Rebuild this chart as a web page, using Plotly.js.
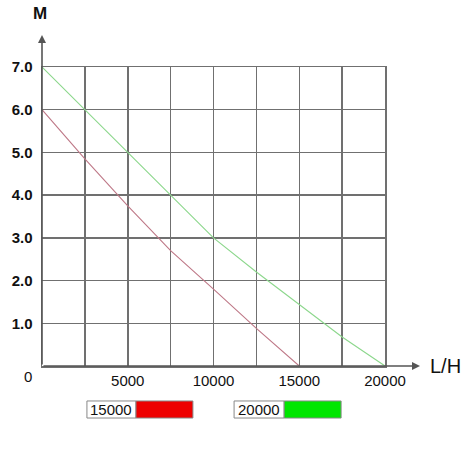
<!DOCTYPE html>
<html>
<head>
<meta charset="utf-8">
<script src="https://cdn.plot.ly/plotly-3.0.1.min.js"></script>
<style>html,body{margin:0;padding:0;background:#fff}#chart{width:470px;height:470px}</style>
</head>
<body>
<div id="chart"></div>
<script>
// Data
const flow15000 = [0, 2500, 5000, 7500, 10000, 12500, 15000];
const head15000 = [6.0, 4.85, 3.75, 2.7, 1.8, 0.88, 0.0];
const flow20000 = [0, 2500, 5000, 7500, 10000, 12500, 15000, 17500, 20000];
const head20000 = [7.0, 6.0, 5.0, 4.0, 3.0, 2.2, 1.43, 0.68, 0.0];
const seriesNames = ["15000", "20000"];
const seriesColors = ["#ee0000", "#00e600"];
const xTickVals = [0, 2500, 5000, 7500, 10000, 12500, 15000, 17500, 20000];
const xTickText = ["", "", "5000", "", "10000", "", "15000", "", "20000"];
const yTickVals = [0, 1, 2, 3, 4, 5, 6, 7];
const yTickText = ["", "1.0", "2.0", "3.0", "4.0", "5.0", "6.0", "7.0"];
const xUnit = "L/H";
const yUnit = "M";

const gridCol = "#707070";
const axisCol = "#555555";
const tickFont = {family: "Liberation Sans Narrow, Liberation Sans, Arial", size: 15, color: "#111"};

const traces = [
  {x: flow15000, y: head15000, mode: "lines", line: {color: "rgb(190,120,135)", width: 1.1}, showlegend: false, hoverinfo: "skip"},
  {x: flow20000, y: head20000, mode: "lines", line: {color: "rgb(140,215,140)", width: 1.1}, showlegend: false, hoverinfo: "skip"}
];

// legend boxes (paper coords)
const boxes = [
  {x0: 0.131, xm: 0.274, x1: 0.440},
  {x0: 0.560, xm: 0.706, x1: 0.872}
];
const by0 = -0.117, by1 = -0.174;
const shapes = [];
const annotations = [];
boxes.forEach((b, i) => {
  shapes.push({type: "rect", xref: "paper", yref: "paper", x0: b.x0, x1: b.xm, y0: by1, y1: by0,
    line: {color: "#888", width: 1}, fillcolor: "#fff"});
  shapes.push({type: "rect", xref: "paper", yref: "paper", x0: b.xm, x1: b.x1, y0: by1, y1: by0,
    line: {color: "#888", width: 1}, fillcolor: seriesColors[i]});
  annotations.push({xref: "paper", yref: "paper", x: (b.x0 + b.xm) / 2, y: (by0 + by1) / 2,
    text: seriesNames[i], showarrow: false, xanchor: "center", yanchor: "middle",
    font: tickFont});
});
// axis arrows
annotations.push({xref: "paper", yref: "paper", x: 0, y: 1.107, ax: 0, ay: 331, axref: "pixel", ayref: "pixel",
  showarrow: true, arrowhead: 2, arrowsize: 1, arrowwidth: 1.6, arrowcolor: axisCol, text: ""});
annotations.push({xref: "paper", yref: "paper", x: 1.102, y: 0, ax: -378, ay: 0,
  showarrow: true, arrowhead: 2, arrowsize: 1, arrowwidth: 1.6, arrowcolor: axisCol, text: ""});
// axis unit labels
annotations.push({xref: "paper", yref: "paper", x: -0.006, y: 1.18, text: "<b>" + yUnit + "</b>", showarrow: false,
  xanchor: "center", yanchor: "middle", font: {family: "Liberation Sans, Arial", size: 17, color: "#111"}});
annotations.push({xref: "paper", yref: "paper", x: 1.175, y: 0.0, text: xUnit, showarrow: false,
  xanchor: "center", yanchor: "middle", font: {family: "Liberation Sans, Arial", size: 20, color: "#111"}});
// origin label
annotations.push({xref: "paper", yref: "paper", x: -0.04, y: -0.035, text: "0", showarrow: false,
  xanchor: "center", yanchor: "middle", font: tickFont});

const layout = {
  width: 470, height: 470,
  margin: {l: 42, r: 85, t: 67, b: 104, pad: 0},
  paper_bgcolor: "#fff", plot_bgcolor: "#fff",
  showlegend: false,
  xaxis: {range: [0, 20000], tickvals: xTickVals, ticktext: xTickText, showgrid: true, gridcolor: gridCol, gridwidth: 1.5,
    zeroline: false, showline: true, linecolor: gridCol, linewidth: 1.5, mirror: true, ticks: "", tickfont: tickFont, fixedrange: true},
  yaxis: {range: [0, 7], tickvals: yTickVals, ticktext: yTickText, showgrid: true, gridcolor: gridCol, gridwidth: 1.5,
    zeroline: false, showline: true, linecolor: gridCol, linewidth: 1.5, mirror: true, ticks: "", ticklabelstandoff: 5,
    tickfont: {family: "Liberation Sans, Arial", size: 15, color: "#111", weight: "bold"}, fixedrange: true},
  shapes: shapes,
  annotations: annotations
};
Plotly.newPlot("chart", traces, layout, {displayModeBar: false, staticPlot: true});
</script>
</body>
</html>
